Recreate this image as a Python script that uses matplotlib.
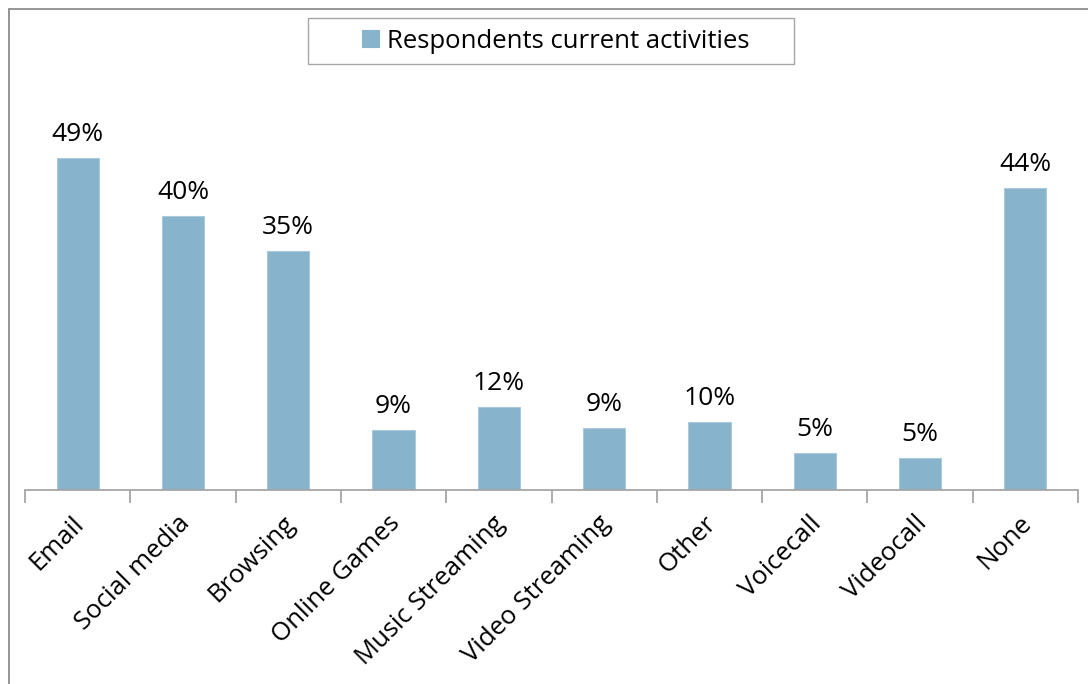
import matplotlib.pyplot as plt
import matplotlib.transforms as mtransforms
from matplotlib.patches import Rectangle

categories = ["Email", "Social media", "Browsing", "Online Games", "Music Streaming",
              "Video Streaming", "Other", "Voicecall", "Videocall", "None"]
shares = [0.488, 0.403, 0.351, 0.088, 0.122, 0.091, 0.100, 0.054, 0.047, 0.444]
series_name = "Respondents current activities"

bar_color = "#87b3cc"
axis_gray = "#a6a6a6"
font = ["Open Sans", "DejaVu Sans"]
W, H = 1088, 684

fig = plt.figure(figsize=(W / 100, H / 100), dpi=100)
fig.patch.set_facecolor("white")

# outer chart frame (left and top edges)
fig.add_artist(Rectangle((8.5 / W, -0.1), 1.2, (1 - 9.5 / H) + 0.1,
                         transform=fig.transFigure, fill=False,
                         edgecolor="#8c8c8c", linewidth=1.3))

ax = fig.add_axes([25 / W, 1 - 490 / H, (1078 - 25) / W, (490 - 82) / H])
x = list(range(len(categories)))
bars = ax.bar(x, shares, width=0.4, color=bar_color, edgecolor="#a9c9dc",
              linewidth=0.8, label=series_name)

ax.set_xlim(-0.5, len(categories) - 0.5)
ax.set_ylim(0, 0.6)

for b, v in zip(bars, shares):
    ax.annotate(f"{v:.0%}", (b.get_x() + b.get_width() / 2, v),
                xytext=(0, 12.5), textcoords="offset points",
                ha="center", va="baseline", fontsize=19, family=font)

for side in ("left", "right", "top"):
    ax.spines[side].set_visible(False)
ax.spines["bottom"].set_color(axis_gray)
ax.spines["bottom"].set_linewidth(1.3)
ax.set_yticks([])

# ticks sit between categories
ax.set_xticks([i - 0.5 for i in range(len(categories) + 1)], minor=False)
ax.set_xticklabels([])
ax.tick_params(axis="x", which="major", length=9, width=1.3, color=axis_gray, direction="out")
ax.set_xticks(x, minor=True)
ax.set_xticklabels(categories, minor=True, rotation=45, ha="right",
                   rotation_mode="anchor", fontsize=18.5, family=font)
ax.tick_params(axis="x", which="minor", length=0, pad=15)
shift = mtransforms.ScaledTranslation(-6 / 100, 0, fig.dpi_scale_trans)
for lbl in ax.get_xticklabels(minor=True):
    lbl.set_transform(lbl.get_transform() + shift)

# legend with a hand-placed frame
fig.add_artist(Rectangle((308 / W, 1 - 64 / H), (794 - 308) / W, 46 / H,
                         transform=fig.transFigure, fill=False,
                         edgecolor="#a6a6a6", linewidth=1.0))
leg = fig.legend(handles=[bars], labels=[series_name], loc="center",
                 bbox_to_anchor=(556 / W, 1 - 41 / H), frameon=False,
                 prop={"family": font, "size": 18.5},
                 handlelength=0.66, handleheight=0.66, handletextpad=0.32,
                 borderpad=0, borderaxespad=0)
for h in leg.legend_handles:
    h.set_edgecolor(bar_color)

fig.savefig("out.png", dpi=100, facecolor="white")
